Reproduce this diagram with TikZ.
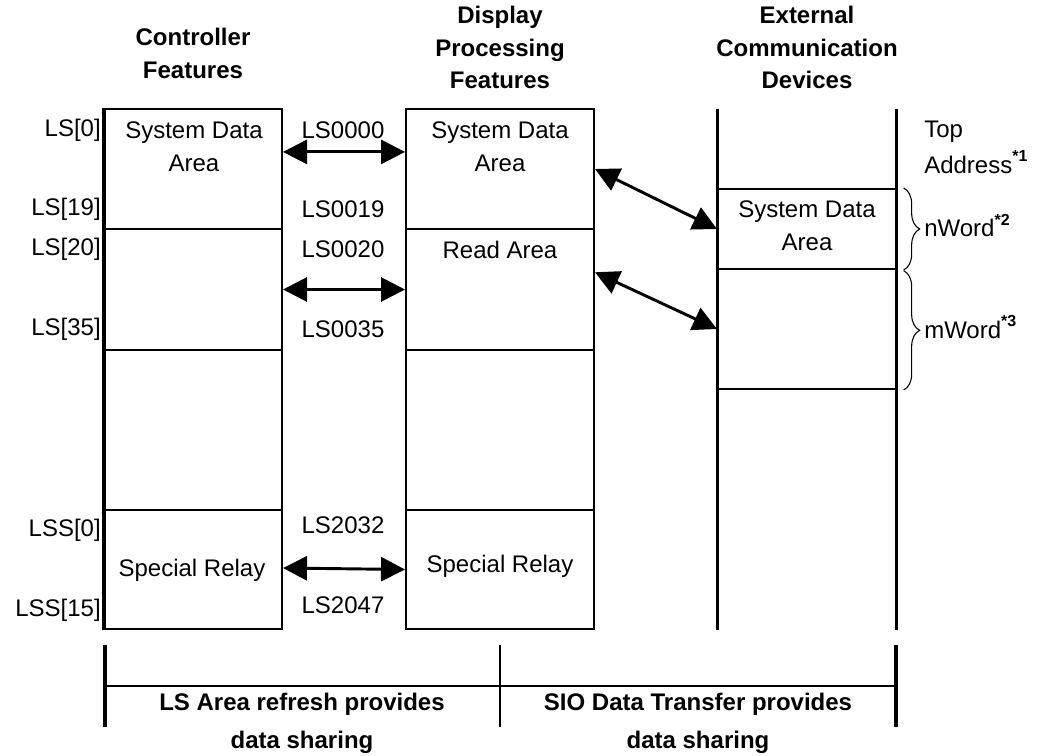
\documentclass[tikz,border=0pt]{standalone}
\usepackage{fontspec}
\setmainfont{Liberation Sans}
\usetikzlibrary{arrows.meta,fit,calc,decorations.pathreplacing}
\newcommand\starnote[1]{\raisebox{0.5em}{\fontsize{12}{12}\selectfont\bfseries *#1}}

\begin{document}
\begin{tikzpicture}[x=0.75pt,y=-0.75pt,line join=miter,
  every node/.style={inner sep=0pt},
  txt/.style={font=\fontsize{18}{24.75}\selectfont,align=center},
  head/.style={font=\bfseries\fontsize{18}{24.5}\selectfont,align=center},
  cell/.style={draw,line width=1.5pt,fit={#1}},
  blank/.style={fit={#1}},
  rail/.style={line width=2.3pt},
  link/.style={{Triangle[length=18pt,width=18pt]}-{Triangle[length=18pt,width=18pt]},line width=2.2pt},
  wordbrace/.style={decorate,decoration={brace,amplitude=12pt},line width=0.8pt}]
  \useasboundingbox (0,0) rectangle (1039,756);
  % headings
  \node[head] (hctl) at (193,53.5) {Controller\\Features};
  \node[head] (hdp) at (500,47.5) {Display\\Processing\\Features};
  \node[head] (hext) at (807,47.5) {External\\Communication\\Devices};
  % controller column
  \node[cell={(105,109) (282,229)}] (ctlsys) {};
  \node[cell={(105,229) (282,350)}] (ctlread) {};
  \node[cell={(105,350) (282,510)}] (ctlfree) {};
  \node[cell={(105,510) (282,629)}] (ctlrelay) {};
  \draw[rail] (ctlsys.north west) -- (ctlrelay.south west);
  \node[txt] (ctlsystxt) at (194,146.5) {System Data\\Area};
  \node[txt] (ctlrelaytxt) at (192,570) {Special Relay};
  % display processing column
  \node[cell={(406,109) (594,229)}] (dpsys) {};
  \node[cell={(406,229) (594,350)}] (dpread) {};
  \node[cell={(406,350) (594,510)}] (dpfree) {};
  \node[cell={(406,510) (594,629)}] (dprelay) {};
  \node[txt] (dpsystxt) at (500,146.5) {System Data\\Area};
  \node[txt] (dpreadtxt) at (500,250) {Read Area};
  \node[txt] (dprelaytxt) at (500,566) {Special Relay};
  % external devices column
  \node[blank={(718,109) (896,189)}] (exttop) {};
  \node[cell={(718,189) (896,269)}] (extsys) {};
  \node[cell={(718,269) (896,389)}] (extdata) {};
  \node[blank={(718,389) (896,630)}] (extrest) {};
  \draw[rail] (exttop.north west) -- (extrest.south west);
  \draw[rail] (exttop.north east) -- (extrest.south east);
  \node[txt] (extsystxt) at (807,226) {System Data\\Area};
  % left addresses
  \node[txt,anchor=east] (ls0) at (101,130) {LS[0]};
  \node[txt,anchor=east] (ls19) at (101,209) {LS[19]};
  \node[txt,anchor=east] (ls20) at (101,249) {LS[20]};
  \node[txt,anchor=east] (ls35) at (101,329) {LS[35]};
  \node[txt,anchor=east] (lss0) at (101,530) {LSS[0]};
  \node[txt,anchor=east] (lss15) at (101,610) {LSS[15]};
  % middle addresses
  \node[txt] (a0000) at (343,130) {LS0000};
  \node[txt] (a0019) at (343,209) {LS0019};
  \node[txt] (a0020) at (343,249) {LS0020};
  \node[txt] (a0035) at (343,329) {LS0035};
  \node[txt] (a2032) at (343,525) {LS2032};
  \node[txt] (a2047) at (343,605) {LS2047};
  % links
  \draw[link] ($(ctlsys.north east)!0.36!(ctlsys.south east)$) -- ($(dpsys.north west)!0.36!(dpsys.south west)$);
  \draw[link] (ctlread.east) -- (dpread.west);
  \draw[link] ($(ctlrelay.east)+(0,-1.5)$) -- (dprelay.west);
  \draw[link] (dpsys.east) -- (extsys.west);
  \draw[link] ($(dpread.north east)!0.36!(dpread.south east)$) -- (extdata.west);
  % right notes
  \node[txt,anchor=base west] (top) at (924,138) {Top};
  \node[txt,anchor=base west] (addr) at (924,174) {Address\starnote{1}};
  \draw[wordbrace] ([xshift=5pt]extsys.north east) -- ([xshift=5pt]extsys.south east);
  \draw[wordbrace] ([xshift=5pt,yshift=-2pt]extdata.north east) -- ([xshift=5pt]extdata.south east);
  \node[txt,anchor=base west] (nword) at (924,237) {nWord\starnote{2}};
  \node[txt,anchor=base west] (mword) at (924,338) {mWord\starnote{3}};
  % bottom bands
  \draw[rail] (105,645) -- (105,727);
  \draw[line width=1.5pt] (500,645) -- (500,727);
  \draw[rail] (896,645) -- (896,727);
  \draw[line width=1.5pt] (105,686) -- (896,686);
  \node[head] (lsband) at (302,704) {LS Area refresh provides};
  \node[head] (lsband2) at (302,742) {data sharing};
  \node[head] (sioband) at (698,704) {SIO Data Transfer provides};
  \node[head] (sioband2) at (698,742) {data sharing};
\end{tikzpicture}
\end{document}
